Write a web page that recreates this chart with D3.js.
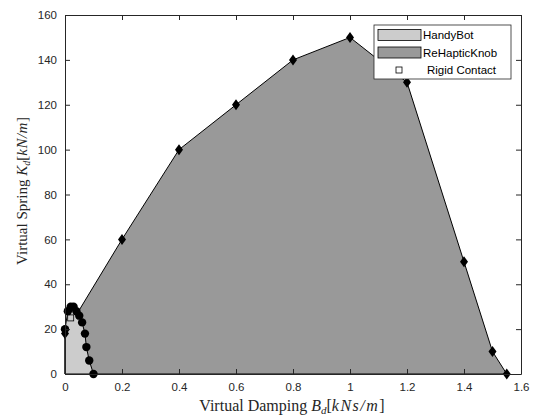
<!DOCTYPE html>
<html>
<head>
<meta charset="utf-8">
<script src="https://cdn.jsdelivr.net/npm/d3@7"></script>
<style>
  body { margin: 0; background: #fff; }
  text { font-family: "Liberation Sans", Arial, sans-serif; }
</style>
</head>
<body>
<div id="chart"></div>
<script>
// donnees
var handyB = [0, 0.01, 0.02, 0.03, 0.04, 0.05, 0.06, 0.07, 0.075, 0.085, 0.1];
var handyK = [20, 28, 30, 30, 28, 26, 23, 18, 12, 6, 0];
var knobB = [0, 0.2, 0.4, 0.6, 0.8, 1.0, 1.2, 1.4, 1.5, 1.55];
var knobK = [18, 60, 100, 120, 140, 150, 130, 50, 10, 0];
var rigidB = [0.02];
var rigidK = [25];
var xTicks = [0, 0.2, 0.4, 0.6, 0.8, 1, 1.2, 1.4, 1.6];
var yTicks = [0, 20, 40, 60, 80, 100, 120, 140, 160];
var legendLabels = ["HandyBot", "ReHapticKnob", "Rigid Contact"];

function draw(boxName){
  var width = 533,
      height = 419;
  var margin = {top: 15, right: 12, bottom: 45, left: 65};
  var w = width - margin.left - margin.right,
      h = height - margin.top - margin.bottom;

  var svg = d3.select(boxName)
    .append("svg")
    .attr("width", width)
    .attr("height", height);

  var g = svg.append("g")
    .attr("transform", "translate(" + margin.left + "," + margin.top + ")");

  var x = d3.scaleLinear().domain([0, 1.6]).range([0, w]);
  var y = d3.scaleLinear().domain([0, 160]).range([h, 0]);

  // fond blanc de la zone
  g.append("rect").attr("width", w).attr("height", h).attr("fill", "#fff");

  var knob = knobB.map(function(b, i){ return [b, knobK[i]]; });
  var handy = handyB.map(function(b, i){ return [b, handyK[i]]; });

  var line = d3.line()
    .x(function(d){ return x(d[0]); })
    .y(function(d){ return y(d[1]); });

  // polygone ReHapticKnob (ferme par l'origine)
  g.append("path")
    .datum(knob.concat([[0, 0]]))
    .attr("d", function(d){ return line(d) + "Z"; })
    .attr("fill", "#999999")
    .attr("stroke", "#000")
    .attr("stroke-width", 1);

  // polygone HandyBot
  g.append("path")
    .datum(handy.concat([[0, 0]]))
    .attr("d", function(d){ return line(d) + "Z"; })
    .attr("fill", "#cccccc")
    .attr("stroke", "#000")
    .attr("stroke-width", 1);

  // losanges
  var diamond = "M0,-5.5L4,0L0,5.5L-4,0Z";
  g.selectAll(".dia")
    .data(knob)
    .enter().append("path")
    .attr("class", "dia")
    .attr("d", diamond)
    .attr("transform", function(d){ return "translate(" + x(d[0]) + "," + y(d[1]) + ")"; })
    .attr("fill", "#000");

  // cercles
  g.selectAll(".dot")
    .data(handy)
    .enter().append("circle")
    .attr("class", "dot")
    .attr("cx", function(d){ return x(d[0]); })
    .attr("cy", function(d){ return y(d[1]); })
    .attr("r", 4.2)
    .attr("fill", "#000");

  // contact rigide
  g.selectAll(".rigid")
    .data(rigidB.map(function(b, i){ return [b, rigidK[i]]; }))
    .enter().append("rect")
    .attr("class", "rigid")
    .attr("x", function(d){ return x(d[0]) - 3; })
    .attr("y", function(d){ return y(d[1]) - 3; })
    .attr("width", 6).attr("height", 6)
    .attr("fill", "none")
    .attr("stroke", "#000")
    .attr("stroke-width", 0.8);

  // axes
  var axisColor = "#262626";
  var xb = g.append("g").attr("transform", "translate(0," + h + ")")
    .call(d3.axisBottom(x).tickValues(xTicks).tickSizeInner(-5).tickSizeOuter(0).tickPadding(9)
      .tickFormat(function(d){ return d3.format("")(+d.toFixed(1)); }));
  var xt = g.append("g")
    .call(d3.axisTop(x).tickValues(xTicks).tickSizeInner(-5).tickSizeOuter(0).tickFormat(""));
  var yl = g.append("g")
    .call(d3.axisLeft(y).tickValues(yTicks).tickSizeInner(-5).tickSizeOuter(0).tickPadding(8));
  var yr = g.append("g").attr("transform", "translate(" + w + ",0)")
    .call(d3.axisRight(y).tickValues(yTicks).tickSizeInner(-5).tickSizeOuter(0).tickFormat(""));

  [xb, xt, yl, yr].forEach(function(a){
    a.select(".domain").attr("stroke", axisColor);
    a.selectAll(".tick line").attr("stroke", axisColor);
    a.selectAll(".tick text")
      .attr("fill", axisColor)
      .style("font-family", "Liberation Sans, Arial, sans-serif")
      .style("font-size", "11.5px");
  });

  // titres des axes
  var xlab = svg.append("text")
    .attr("x", 292)
    .attr("y", 411)
    .attr("text-anchor", "middle")
    .style("font-family", "Liberation Serif, serif")
    .style("font-size", "16px")
    .attr("fill", axisColor);
  xlab.append("tspan").text("Virtual Damping ");
  xlab.append("tspan").style("font-style", "italic").text("B");
  xlab.append("tspan").style("font-style", "italic").style("font-size", "11px").attr("dy", 3).text("d");
  xlab.append("tspan").attr("dy", -3).text("[");
  xlab.append("tspan").style("font-style", "italic").style("letter-spacing", "1.5px").text("kNs/m");
  xlab.append("tspan").text("]");

  var ylab = svg.append("text")
    .attr("transform", "translate(27,191) rotate(-90)")
    .attr("text-anchor", "middle")
    .style("font-family", "Liberation Serif, serif")
    .style("font-size", "15px")
    .attr("fill", axisColor);
  ylab.append("tspan").text("Virtual Spring ");
  ylab.append("tspan").style("font-style", "italic").text("K");
  ylab.append("tspan").style("font-style", "italic").style("font-size", "10px").attr("dy", 3).text("d");
  ylab.append("tspan").attr("dy", -3).text("[");
  ylab.append("tspan").style("font-style", "italic").style("letter-spacing", "0.5px").text("kN/m");
  ylab.append("tspan").text("]");

  // legende
  var lg = svg.append("g").attr("transform", "translate(374,25)");
  lg.append("rect")
    .attr("width", 137).attr("height", 54)
    .attr("fill", "#fff").attr("stroke", axisColor).attr("stroke-width", 0.8);
  var fills = ["#cccccc", "#999999"];
  legendLabels.forEach(function(lbl, i){
    var cy = 10 + i * 17.5;
    if (i < 2) {
      lg.append("rect")
        .attr("x", 4).attr("y", cy - 5.5)
        .attr("width", 43).attr("height", 11)
        .attr("fill", fills[i]).attr("stroke", "#000").attr("stroke-width", 0.8);
    } else {
      lg.append("rect")
        .attr("x", 22).attr("y", cy - 3)
        .attr("width", 6).attr("height", 6)
        .attr("fill", "none").attr("stroke", "#000").attr("stroke-width", 0.8);
    }
    lg.append("text")
      .attr("x", i < 2 ? 49 : 53)
      .attr("y", cy + 4)
      .style("font-size", "11.5px")
      .attr("fill", "#000")
      .text(lbl);
  });
}

draw("#chart");
</script>
</body>
</html>
